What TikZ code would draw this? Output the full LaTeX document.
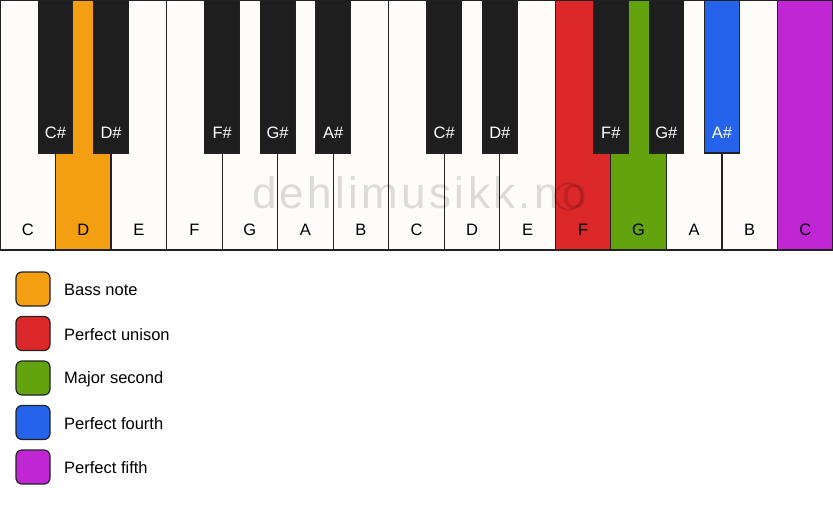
\documentclass[tikz,border=0pt]{standalone}
\usepackage{fontspec}
\setmainfont{Liberation Sans}
\newfontfamily\wmfont[LetterSpace=7.6]{Liberation Sans}
\definecolor{wk}{HTML}{FDFCF8}
\definecolor{bk}{HTML}{1E1E1E}
\definecolor{edge}{HTML}{222222}
\definecolor{bass}{HTML}{F49E12}
\definecolor{uni}{HTML}{DC2828}
\definecolor{sec}{HTML}{62A30E}
\definecolor{fourth}{HTML}{2563EB}
\definecolor{fif}{HTML}{C026D3}
\begin{document}
\begin{tikzpicture}[x=1pt,y=-1pt,
  wkey/.style={draw=edge,line width=1.2pt,rectangle,anchor=north west,outer sep=0pt,inner sep=0pt,minimum width=55.533pt,minimum height=250pt},
  bkey/.style={draw=edge,line width=1.2pt,rectangle,anchor=north,outer sep=0pt,inner sep=0pt,minimum width=34.5pt,minimum height=153pt},
  wlab/.style={font=\fontsize{16.5}{19}\selectfont,text=black,inner sep=0pt,anchor=center},
  blab/.style={font=\fontsize{16.5}{19}\selectfont,text=white,inner sep=0pt,anchor=center},
  legbox/.style={draw=edge,line width=1.2pt,rounded corners=6pt,minimum width=34pt,minimum height=34pt,inner sep=0pt,outer sep=0pt},
  legtext/.style={font=\fontsize{16.5}{19}\selectfont,anchor=west,inner sep=0pt},
  wmark/.style={font=\wmfont\fontsize{44}{50}\selectfont,text=black,text opacity=0.13,inner sep=0pt,anchor=base west},
  wring/.style={draw=black,draw opacity=0.13,line width=2pt}
]
\useasboundingbox (0,0) rectangle (833,506);
\def\kw{55.533}
% white keys
\foreach \n/\c [count=\i from 0] in {C/wk,D/bass,E/wk,F/wk,G/wk,A/wk,B/wk,C/wk,D/wk,E/wk,F/uni,G/sec,A/wk,B/wk,C/fif}{
  \node[wkey,fill=\c] (w\i) at ({\i*\kw},0) {};
  \node[wlab] (wl\i) at ([yshift=20pt]w\i.south) {\n};
}
% watermark
\node[wmark] (wm) at (252,208) {dehlimusikk.no};
\coordinate (wmc) at (568.5,196.5);
\draw[wring] (wmc) circle[radius=13.2pt];
% black keys
\foreach \k/\n/\c in {1/C/bk,2/D/bk,4/F/bk,5/G/bk,6/A/bk,8/C/bk,9/D/bk,11/F/bk,12/G/bk,13/A/fourth}{
  \node[bkey,fill=\c] (b\k) at ({\k*\kw},0) {};
  \node[blab] (bl\k) at ([yshift=20pt]b\k.south) {\n\#};
}
% legend
\foreach \c/\t [count=\j from 0] in {bass/Bass note,uni/Perfect unison,sec/Major second,fourth/Perfect fourth,fif/Perfect fifth}{
  \node[legbox,fill=\c] (lb\j) at (33,{289+\j*44.5}) {};
  \node[legtext] (lt\j) at ([xshift=14pt,yshift=-1pt]lb\j.east) {\t};
}
\end{tikzpicture}
\end{document}
